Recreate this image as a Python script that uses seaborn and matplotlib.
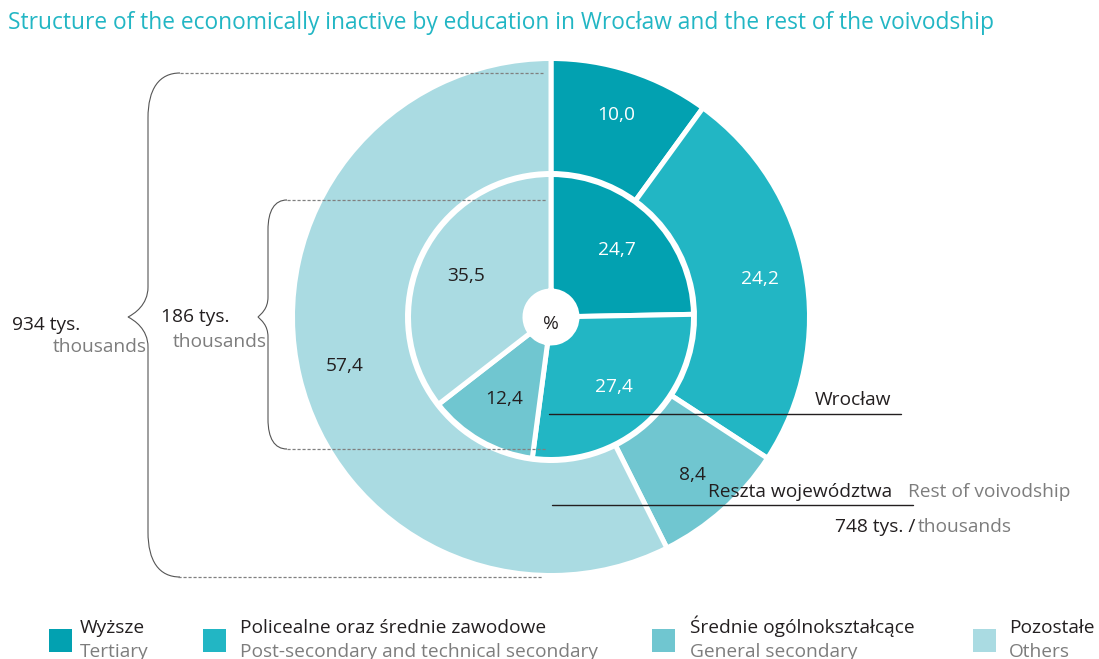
import matplotlib.pyplot as plt
from matplotlib.path import Path
from matplotlib.patches import PathPatch, Rectangle
import seaborn as sns

# ── Data ────────────────────────────────────────────────────────
categories_pl = ["Wyższe", "Policealne oraz średnie zawodowe",
                 "Średnie ogólnokształcące", "Pozostałe"]
categories_en = ["Tertiary", "Post-secondary and technical secondary",
                 "General secondary", "Others"]
wroclaw_pct = [24.7, 27.4, 12.4, 35.5]      # inner pie
rest_pct = [10.0, 24.2, 8.4, 57.4]          # outer ring
total_all = 934
total_wroclaw = 186
total_rest = 748

# ── Style ───────────────────────────────────────────────────────
sns.set_theme(style="white")
plt.rcParams['font.family'] = ['Open Sans', 'DejaVu Sans']
palette = sns.color_palette(["#02a1b1", "#22b6c4", "#70c6d0", "#aadbe2"])
dark = "#231f20"
grey = "#7d7d7d"
label_colors = ["white", "white", dark, dark]
fs = 13.8

W, H = 1099, 659
def Y(y):
    return H - y

fig = plt.figure(figsize=(W / 100, H / 100), dpi=100)
ax = fig.add_axes([0, 0, 1, 1])

def fmt(p):
    return f"{p:.1f}".replace(".", ",")

cx, cy = 551, Y(317)
edge = dict(edgecolor="white", linewidth=3.6)

# outer ring: rest of voivodship
w_out, t_out, a_out = ax.pie(rest_pct, radius=258.5, center=(cx, cy),
                             startangle=90, counterclock=False, colors=palette,
                             wedgeprops=dict(width=115, **edge),
                             autopct=fmt, pctdistance=212 / 258.5,
                             textprops=dict(fontsize=fs))
# inner pie: Wrocław
w_in, t_in, a_in = ax.pie(wroclaw_pct, radius=142.5, center=(cx, cy),
                          startangle=90, counterclock=False, colors=palette,
                          wedgeprops=dict(width=116.5, **edge),
                          autopct=fmt, pctdistance=0.66,
                          textprops=dict(fontsize=fs))
for t, c in zip(a_out, label_colors):
    t.set_color(c)
for t, c in zip(a_in, label_colors):
    t.set_color(c)
ax.text(cx, cy - 7, "%", ha="center", va="center", fontsize=fs, color=dark)

ax.set_xlim(0, W)
ax.set_ylim(0, H)
ax.set_aspect("equal")
ax.axis("off")

# ── Braces and dashed guides ────────────────────────────────────
def brace(x_end, x_mid, x_tip, y_top, y_bot, y_tip, d_end, d_tip):
    pts = [(x_end, y_top),
           (x_mid + (x_end - x_mid) * 0.35, y_top), (x_mid, y_top + d_end * 0.35), (x_mid, y_top + d_end),
           (x_mid, y_tip - d_tip),
           (x_mid, y_tip - d_tip * 0.4), (x_tip + (x_mid - x_tip) * 0.3, y_tip - 3), (x_tip, y_tip),
           (x_tip + (x_mid - x_tip) * 0.3, y_tip + 3), (x_mid, y_tip + d_tip * 0.4), (x_mid, y_tip + d_tip),
           (x_mid, y_bot - d_end),
           (x_mid, y_bot - d_end * 0.35), (x_mid + (x_end - x_mid) * 0.35, y_bot), (x_end, y_bot)]
    codes = ([Path.MOVETO] + [Path.CURVE4] * 3 + [Path.LINETO] + [Path.CURVE4] * 6
             + [Path.LINETO] + [Path.CURVE4] * 3)
    path = Path([(x, Y(y)) for x, y in pts], codes)
    ax.add_patch(PathPatch(path, fill=False, edgecolor="#555555", lw=0.8))

brace(180, 148, 128, 73, 577, 317, 45, 30)
brace(287, 268, 258, 200, 449, 317, 30, 20)

dash = dict(color="#808080", lw=0.9, ls=(0, (2.5, 1.5)))
ax.plot([180, 543], [Y(73)] * 2, **dash)
ax.plot([178, 543], [Y(577)] * 2, **dash)
ax.plot([287, 547], [Y(200)] * 2, **dash)
ax.plot([287, 547], [Y(449)] * 2, **dash)

ax.text(12, Y(330), f"{total_all} tys.", fontsize=fs, color=dark, va="baseline")
ax.text(147, Y(352), "thousands", fontsize=fs, color=grey, va="baseline", ha="right")
ax.text(161, Y(322), f"{total_wroclaw} tys.", fontsize=fs, color=dark, va="baseline")
ax.text(267, Y(347), "thousands", fontsize=fs, color=grey, va="baseline", ha="right")

# ── Series callouts ─────────────────────────────────────────────
ax.plot([549, 901], [Y(414)] * 2, color=dark, lw=1)
ax.text(891, Y(405), "Wrocław", fontsize=fs, color=dark, ha="right", va="baseline")
ax.plot([552, 913], [Y(505)] * 2, color=dark, lw=1)
ax.text(708, Y(497), "Reszta województwa", fontsize=fs, color=dark, va="baseline")
ax.text(1070, Y(497), "Rest of voivodship", fontsize=fs, color=grey, va="baseline", ha="right")
ax.text(835, Y(532), f"{total_rest} tys. /", fontsize=fs, color=dark, va="baseline")
ax.text(1012, Y(532), "thousands", fontsize=fs, color=grey, va="baseline", ha="right")

# ── Title ───────────────────────────────────────────────────────
ax.text(8, Y(29), "Structure of the economically inactive by education in Wrocław "
        "and the rest of the voivodship", fontsize=16.4, color="#22b6c4", va="baseline")

# ── Legend ──────────────────────────────────────────────────────
sq_x = [49, 203, 652, 973]
txt_x = [80, 240, 690, 1009]
for sx, tx, col, pl, en in zip(sq_x, txt_x, palette, categories_pl, categories_en):
    ax.add_patch(Rectangle((sx, Y(652)), 23, 23, color=col, lw=0))
    ax.text(tx, Y(633), pl, fontsize=fs, color=dark, va="baseline")
    ax.text(tx, Y(657), en, fontsize=fs, color=grey, va="baseline")

plt.savefig("out.png", dpi=100)
